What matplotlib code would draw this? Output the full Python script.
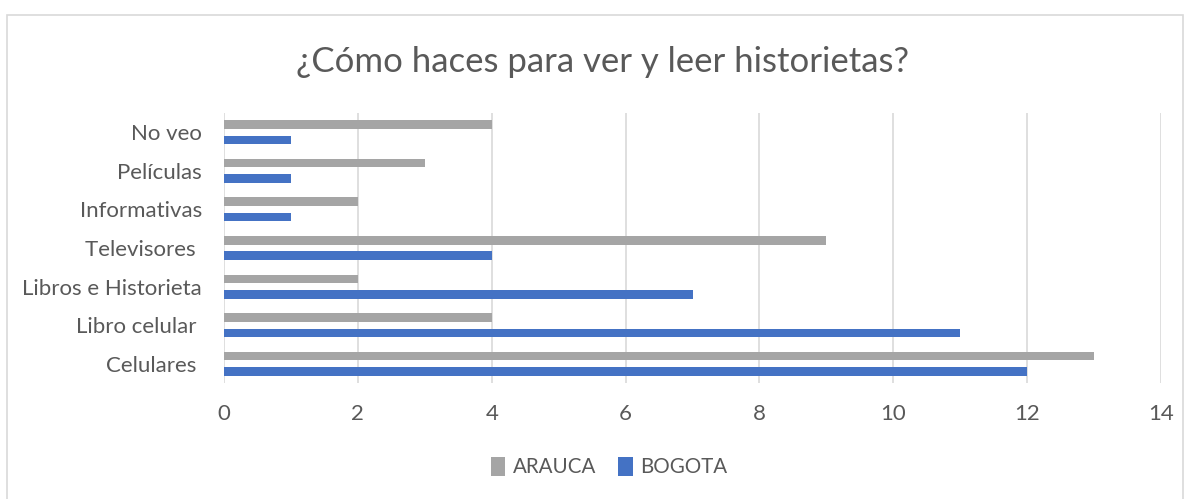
import matplotlib
matplotlib.use('Agg')
import matplotlib.pyplot as plt
from matplotlib.patches import Rectangle
import numpy as np

categories = ["Celulares ", "Libro celular ", "Libros e Historieta", "Televisores ",
              "Informativas", "Películas", "No veo"]
arauca = [13, 4, 2, 9, 2, 3, 4]
bogota = [12, 11, 7, 4, 1, 1, 1]

GRAY = "#A5A5A5"
BLUE = "#4472C4"
TEXT = "#595959"

plt.rcParams['font.family'] = ['Lato', 'DejaVu Sans']

fig = plt.figure(figsize=(11.88, 4.99), dpi=100)
fig.patches.append(Rectangle((7 / 1188, -0.02), 1176 / 1188, (499 - 15) / 499 + 0.02,
                             transform=fig.transFigure, fill=False,
                             edgecolor="#D9D9D9", linewidth=1.2))

ax = fig.add_axes([224 / 1188, 116 / 499, 937 / 1188, 270 / 499])
y = np.arange(len(categories))
ax.barh(y + 0.2, arauca, height=0.22, color=GRAY, label="ARAUCA", zorder=3)
ax.barh(y - 0.2, bogota, height=0.22, color=BLUE, label="BOGOTA", zorder=3)

ax.set_xlim(0, 14)
ax.set_ylim(-0.5, 6.5)
ax.set_xticks(range(0, 15, 2))
ax.set_yticks(y)
ax.set_yticklabels(categories)
ax.grid(axis='x', color="#D9D9D9", linewidth=1.2, zorder=0)
for s in ax.spines.values():
    s.set_visible(False)
ax.tick_params(axis='both', length=0, colors=TEXT, labelsize=16)
ax.tick_params(axis='y', pad=16)
ax.tick_params(axis='x', pad=15)

fig.text(603 / 1188, 1 - 62 / 499, "¿Cómo haces para ver y leer historietas?",
         ha='center', va='center', fontsize=25, color=TEXT)

fig.legend(loc='center', bbox_to_anchor=(609 / 1188, 1 - 467 / 499), ncol=2,
           frameon=False, fontsize=14.8, labelcolor=TEXT, handlelength=0.7,
           handleheight=1.1, handletextpad=0.35, columnspacing=1.1)

fig.savefig("out.png", dpi=100)
